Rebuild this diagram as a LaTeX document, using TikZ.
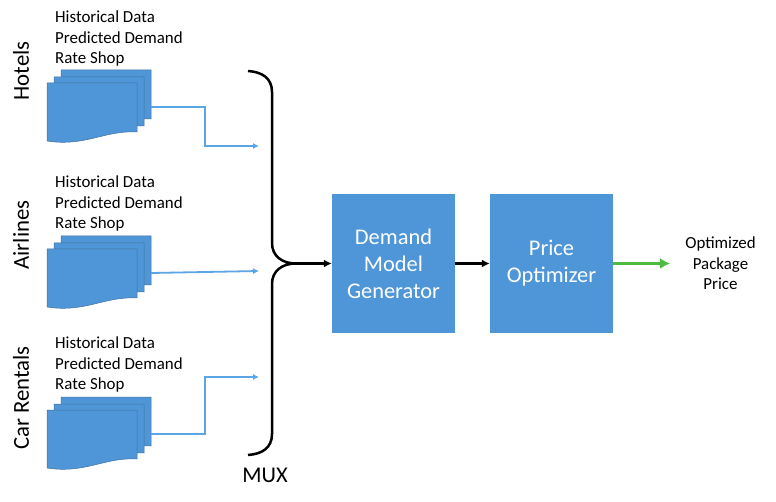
\documentclass[tikz,border=0pt]{standalone}
\usepackage{fontspec}
\setmainfont{Carlito}
\usetikzlibrary{arrows,arrows.meta,positioning}
\definecolor{boxblue}{HTML}{4F96D8}
\definecolor{edgeblue}{HTML}{41719C}
\definecolor{feedblue}{HTML}{5BA4E6}
\definecolor{outgreen}{HTML}{4DBB3F}

\begin{document}
\begin{tikzpicture}[x=1pt, y=-1pt]
        \tikzstyle{block} = [rectangle, fill=boxblue, text=white, align=center, font=\fontsize{22.4}{27}\selectfont, minimum width=123pt, minimum height=139pt, inner sep=0pt]
        \tikzstyle{sheet} = [draw=edgeblue, line width=0.5pt, fill=boxblue]
        \tikzstyle{sources} = [align=left, anchor=north west, inner sep=0pt, font=\fontsize{16.9}{20.5}\selectfont]
        \tikzstyle{kind} = [rotate=90, inner sep=0pt, font=\fontsize{22.8}{24}\selectfont]
        \tikzstyle{feed} = [draw=feedblue, line width=1.8pt, -{Latex[length=6pt,width=6pt]}]
        \tikzstyle{line} = [draw, line width=2.4pt, -{Latex[length=8pt,width=8pt]}]
        \useasboundingbox (0,0) rectangle (776,502);

        % the three document stacks
        \foreach \name/\top in {hotels/70, airlines/236, cars/397} {
            \foreach \dx/\dy in {14/0, 7/7, 0/13} {
                \draw [sheet] (47+\dx,\top+\dy) -- (137+\dx,\top+\dy) -- (137+\dx,\top+\dy+49)
                    .. controls (105+\dx,\top+\dy+47) and (85+\dx,\top+\dy+64) .. (47+\dx,\top+\dy+58) -- cycle;
            }
            \coordinate (\name-out) at (151,\top+37);
        }

        \node [sources] (hoteltext) at (55,11) {Historical Data\\Predicted Demand\\Rate Shop};
        \node [sources] (airtext) at (55,176) {Historical Data\\Predicted Demand\\Rate Shop};
        \node [sources] (cartext) at (55,337) {Historical Data\\Predicted Demand\\Rate Shop};

        \node [kind] (hotellabel) at (21,71) {Hotels};
        \node [kind] (airlabel) at (21,235) {Airlines};
        \node [kind] (carlabel) at (21,398) {Car Rentals};

        \node [block] (generator) at (393.5,263.5) {Demand\\Model\\Generator};
        \node [block] (optimizer) at (551.5,263.5) {Price\\Optimizer};
        \node [align=center, inner sep=0pt, font=\fontsize{16.9}{20.5}\selectfont] (result) at (720.5,263.5) {Optimized\\Package\\Price};
        \node [inner sep=0pt, font=\fontsize{22.5}{24}\selectfont] (mux) at (265,475) {MUX};

        % brace
        \coordinate (tip) at (296,263.5);
        \draw [line width=2.5pt] (248,71) .. controls (262,72) and (272,78) .. (272,92) -- (272,243)
            .. controls (272,256) and (282,263.5) .. (tip)
            .. controls (282,263.5) and (272,271) .. (272,284) -- (272,434)
            .. controls (272,448) and (262,454) .. (248,455);

        \coordinate (hotelin) at (259,146);
        \coordinate (airin) at (259,271);
        \coordinate (carin) at (259,377);
        \path [feed] (hotels-out) -| (205,146) -- (hotelin);
        \path [feed] (airlines-out) -- (airin);
        \path [feed] (cars-out) -| (205,377) -- (carin);

        \path [line] (tip) -- (generator);
        \path [line] (generator) -- (optimizer);
        \coordinate (resultin) at (670,263.5);
        \path [line, draw=outgreen, line width=3.6pt, -{Latex[length=10pt,width=11pt]}] (optimizer) -- (resultin);
    \end{tikzpicture}
\end{document}
